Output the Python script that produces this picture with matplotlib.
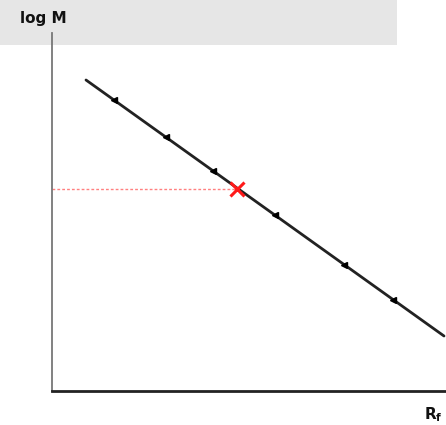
import numpy as np
import matplotlib.pyplot as plt
from matplotlib.patches import Rectangle

# calibration line (Rf vs log M), arbitrary units
line_rf = [34, 392]
line_logm = [311, 55]
# standards along the line
std_rf = [62, 114, 161, 223, 292, 341]
std_logm = [291, 254, 220, 176, 126, 91]
# unknown sample
unk_rf = [185]
unk_logm = [202]

W, H = 446, 425
fig = plt.figure(figsize=(W / 100, H / 100), dpi=100)

# grey header band
fig.patches.append(Rectangle((0, 1 - 45 / H), 397 / W, 45 / H,
                             transform=fig.transFigure, facecolor='#e6e6e6',
                             edgecolor='none', zorder=-1))

ax = fig.add_axes([52 / W, (H - 391) / H, (W - 52) / W, (391 - 33) / H])
ax.set_zorder(2)
ax.set_xlim(0, W - 52)
ax.set_ylim(0, 391 - 33)
ax.patch.set_alpha(0)

ax.plot(line_rf, line_logm, color='#222222', lw=2, solid_capstyle='round')
ax.plot(std_rf, std_logm, linestyle='none', marker='<', ms=4.5, color='black')
ax.plot([0, unk_rf[0]], [unk_logm[0], unk_logm[0]], color='#ff8080',
        lw=1, linestyle=(0, (2, 1.5)))
ax.plot(unk_rf, unk_logm, linestyle='none', marker='x', ms=10, mew=2.2,
        color='#ff1a1a')

for s in ['top', 'right']:
    ax.spines[s].set_visible(False)
ax.spines['left'].set_color('#777777')
ax.spines['left'].set_linewidth(1.3)
ax.spines['bottom'].set_color('#222222')
ax.spines['bottom'].set_linewidth(2)
ax.set_xticks([])
ax.set_yticks([])

fig.text(43 / W, 1 - 19 / H, 'log M', ha='center', va='center',
         fontsize=11, fontweight='bold', color='#111111')
fig.text(433 / W, 1 - 415 / H, r'R$_{\mathbf{f}}$', ha='center', va='center',
         fontsize=11, fontweight='bold', color='#111111')

plt.savefig('out.png', dpi=100)
